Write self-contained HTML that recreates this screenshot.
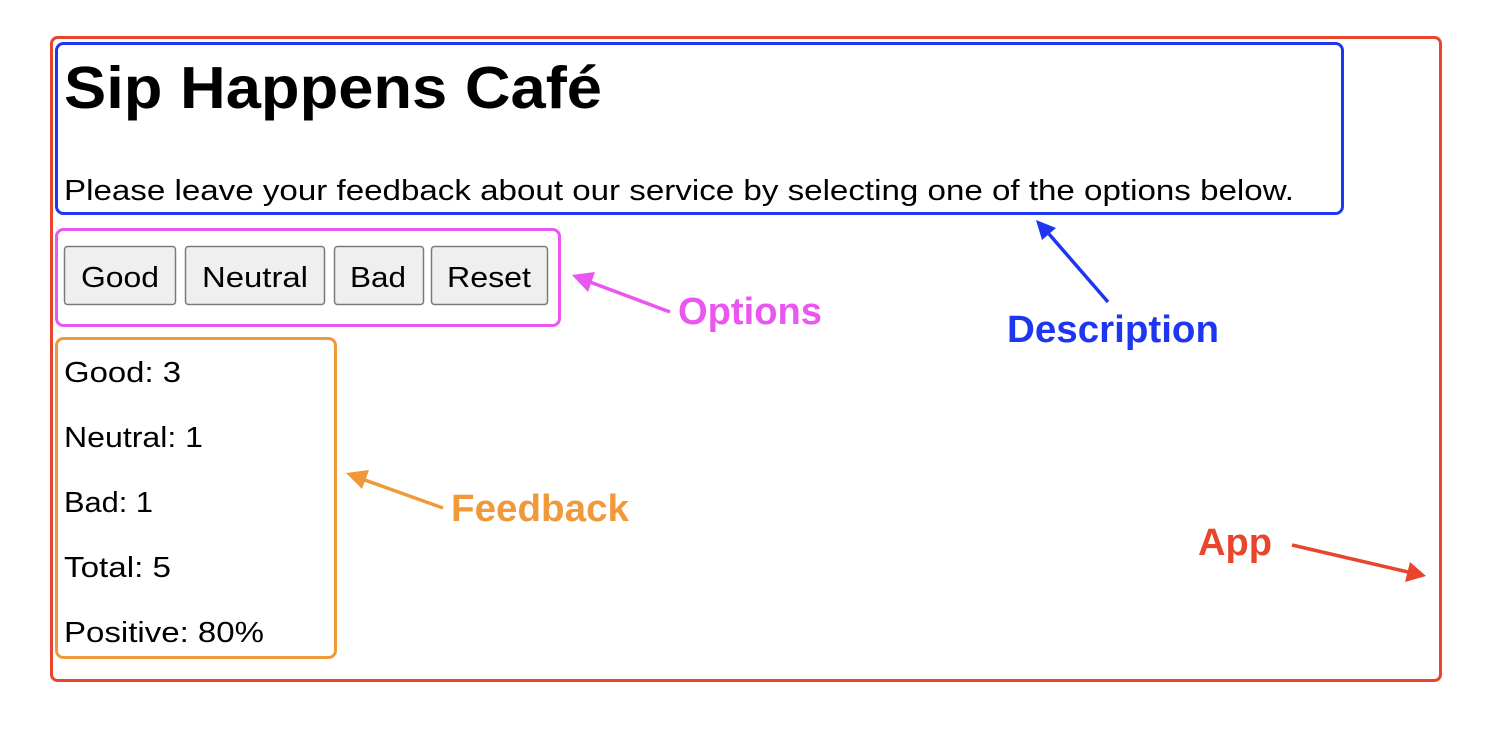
<!DOCTYPE html>
<html><head><meta charset="utf-8"><style>
html,body{margin:0;padding:0;background:#fff;width:1492px;height:734px;overflow:hidden}
svg{display:block}
text{font-family:"Liberation Sans",Arial,sans-serif}
</style></head><body>
<svg width="1492" height="734" viewBox="0 0 1492 734" xmlns="http://www.w3.org/2000/svg">
<rect x="51.5" y="37.5" width="1389" height="643" rx="6" fill="none" stroke="#e8452c" stroke-width="3"/>
<rect x="56.5" y="43.5" width="1286" height="170" rx="7" fill="none" stroke="#1f36f0" stroke-width="3"/>
<rect x="56.5" y="229.5" width="503" height="96" rx="7" fill="none" stroke="#e956f0" stroke-width="3"/>
<rect x="56.5" y="338.5" width="279" height="319" rx="7" fill="none" stroke="#f0993a" stroke-width="3"/>

<text x="64" y="108" font-size="59" font-weight="bold" fill="#000" textLength="538" lengthAdjust="spacingAndGlyphs">Sip Happens Café</text>
<text x="64" y="200" font-size="29" fill="#000" textLength="1230" lengthAdjust="spacingAndGlyphs">Please leave your feedback about our service by selecting one of the options below.</text>

<g fill="#efefef" stroke="#7a7a7a" stroke-width="1.5">
<rect x="64.5" y="246.5" width="111" height="58" rx="3"/>
<rect x="185.5" y="246.5" width="139" height="58" rx="3"/>
<rect x="334.5" y="246.5" width="89" height="58" rx="3"/>
<rect x="431.5" y="246.5" width="116" height="58" rx="3"/>
</g>
<g font-size="29" fill="#000">
<text x="81" y="287" textLength="78" lengthAdjust="spacingAndGlyphs">Good</text>
<text x="202" y="287" textLength="106" lengthAdjust="spacingAndGlyphs">Neutral</text>
<text x="350" y="287" textLength="56" lengthAdjust="spacingAndGlyphs">Bad</text>
<text x="447" y="287" textLength="84" lengthAdjust="spacingAndGlyphs">Reset</text>
</g>

<g font-size="29" fill="#000">
<text x="64" y="382" textLength="117" lengthAdjust="spacingAndGlyphs">Good: 3</text>
<text x="64" y="447" textLength="139" lengthAdjust="spacingAndGlyphs">Neutral: 1</text>
<text x="64" y="512" textLength="89" lengthAdjust="spacingAndGlyphs">Bad: 1</text>
<text x="64" y="577" textLength="107" lengthAdjust="spacingAndGlyphs">Total: 5</text>
<text x="64" y="642" textLength="200" lengthAdjust="spacingAndGlyphs">Positive: 80%</text>
</g>

<g font-size="38" font-weight="bold">
<text x="678" y="324" fill="#e956f0" textLength="144" lengthAdjust="spacingAndGlyphs">Options</text>
<text x="1007" y="342" fill="#1f36f0" textLength="212" lengthAdjust="spacingAndGlyphs">Description</text>
<text x="451" y="521" fill="#f0993a" textLength="178" lengthAdjust="spacingAndGlyphs">Feedback</text>
<text x="1198" y="555" fill="#e8452c" textLength="74" lengthAdjust="spacingAndGlyphs">App</text>
</g>

<line x1="670" y1="312" x2="590" y2="282" stroke="#e956f0" stroke-width="3.5"/>
<polygon points="572,275 595,272 588,292" fill="#e956f0"/>

<line x1="1108" y1="302" x2="1049" y2="234" stroke="#1f36f0" stroke-width="3.5"/>
<polygon points="1036,220 1056,228 1042,240" fill="#1f36f0"/>

<line x1="443" y1="508" x2="362" y2="479" stroke="#f0993a" stroke-width="3.5"/>
<polygon points="346,473 369,470 362,489" fill="#f0993a"/>

<line x1="1292" y1="545" x2="1408" y2="572" stroke="#e8452c" stroke-width="3.5"/>
<polygon points="1426,576 1405,582 1410,562" fill="#e8452c"/>
</svg>
</body></html>
